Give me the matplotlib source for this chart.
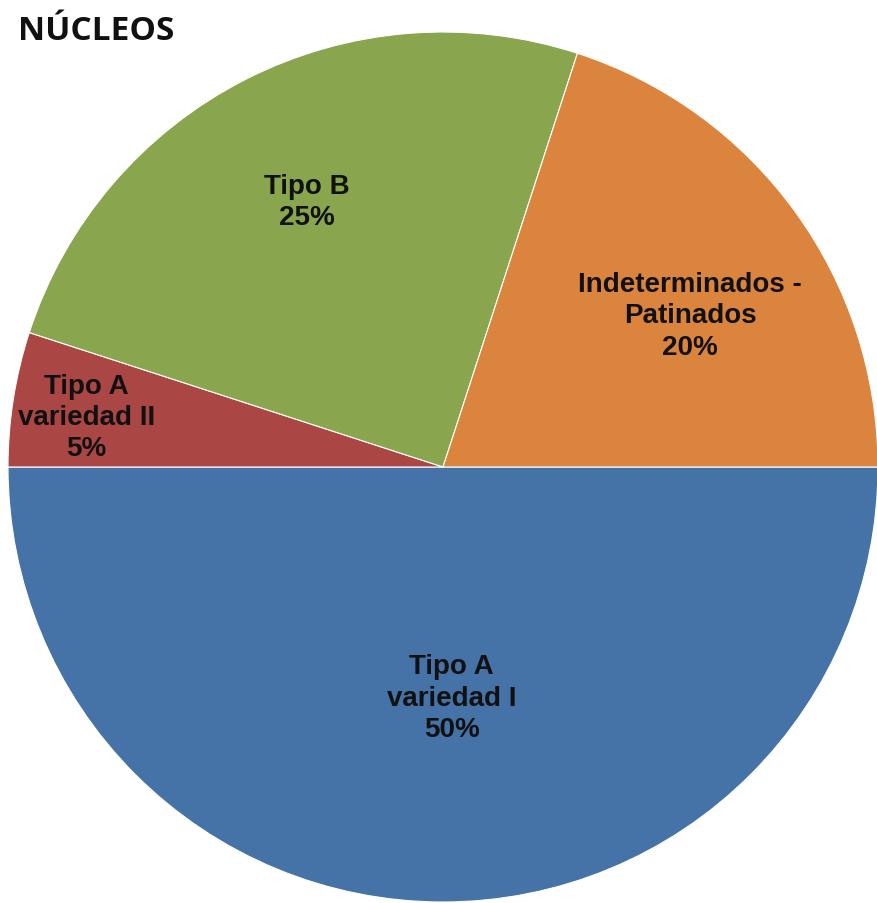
import matplotlib
matplotlib.use("Agg")
import matplotlib.pyplot as plt
import numpy as np

plt.rcParams["font.family"] = ["Liberation Sans", "DejaVu Sans"]

labels = ["Tipo A\nvariedad I", "Tipo A\nvariedad II", "Tipo B", "Indeterminados -\nPatinados"]
values = [50, 5, 25, 20]
colors = ["#4572A7", "#AA4643", "#89A54E", "#DB843D"]
label_dist = [0.53, 0.83, 0.69, 0.67]
label_shift = [(0.02, 0.0), (0.0, -0.015), (0.0, -0.005), (0.026, -0.045)]

W, H = 877, 904
cx, cy, R = 443, 468, 435
fig = plt.figure(figsize=(W / 100, H / 100), dpi=100)
ax = fig.add_axes([0, 0, 1, 1])

wedges, _ = ax.pie(values, colors=colors, startangle=0, counterclock=False,
                   radius=1, center=(0, 0), frame=True,
                   wedgeprops=dict(edgecolor="white", linewidth=0.8))
ax.set_aspect("auto")
ax.set_xlim(-cx / R, (W - cx) / R)
ax.set_ylim(-(H - cy) / R, cy / R)
ax.axis("off")

total = sum(values)
for w, lab, v, d, (sx, sy) in zip(wedges, labels, values, label_dist, label_shift):
    ang = np.deg2rad((w.theta1 + w.theta2) / 2)
    x, y = d * np.cos(ang) + sx, d * np.sin(ang) + sy
    ax.text(x, y, f"{lab}\n{v / total * 100:.0f}%", ha="center", va="center",
            fontsize=20, fontweight="bold", family=["Liberation Sans", "DejaVu Sans"],
            linespacing=1.27, color="#111111")

fig.text(18 / W, 1 - 32 / H, "NÚCLEOS", ha="left", va="center", fontsize=24,
         fontweight="bold", family=["Open Sans", "DejaVu Sans"], color="#111111")

fig.savefig("out.png", dpi=100)
